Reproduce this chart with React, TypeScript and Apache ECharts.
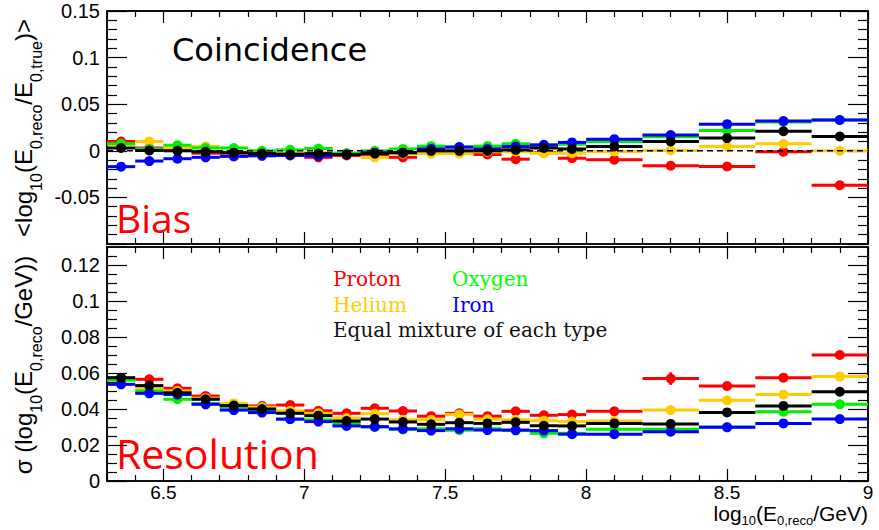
import React, { useEffect, useRef } from "react";
import * as echarts from "echarts";

// ---------------- data ----------------
const binCenters = [6.35, 6.45, 6.55, 6.65, 6.75, 6.85, 6.95, 7.05, 7.15, 7.25, 7.35, 7.45, 7.55, 7.65, 7.75, 7.85, 7.95, 8.1, 8.3, 8.5, 8.7, 8.9];
const binHalfWidths = [0.05, 0.05, 0.05, 0.05, 0.05, 0.05, 0.05, 0.05, 0.05, 0.05, 0.05, 0.05, 0.05, 0.05, 0.05, 0.05, 0.05, 0.1, 0.1, 0.1, 0.1, 0.1];

const biasProton = [0.010, 0.003, 0.002, -0.0025, -0.0025, -0.003, -0.004, -0.007, -0.005, -0.004, -0.007, -0.001, -0.002, -0.004, -0.009, -0.002, -0.008, -0.0096, -0.016, -0.0168, -0.001, -0.037];
const biasHelium = [0.007, 0.010, 0.003, 0.0046, -0.001, -0.002, -0.003, -0.002, -0.003, -0.007, -0.003, -0.003, -0.003, -0.001, -0.001, -0.0025, -0.0025, -0.0007, 0.0003, 0.0046, 0.0075, 0.0];
const biasOxygen = [0.0075, 0.002, 0.006, 0.003, 0.003, 0.0, 0.001, 0.0025, -0.0025, 0.0, 0.002, 0.005, 0.004, 0.005, 0.0075, 0.005, 0.007, 0.010, 0.015, 0.0218, 0.031, 0.033];
const biasIron = [-0.017, -0.011, -0.0085, -0.007, -0.006, -0.0054, -0.005, -0.0055, -0.004, -0.002, -0.002, 0.002, 0.004, 0.002, 0.0046, 0.0064, 0.009, 0.0125, 0.017, 0.0286, 0.032, 0.033];
const biasMixture = [0.003, 0.0003, 0.0, -0.001, -0.002, -0.003, -0.0036, -0.003, -0.004, -0.003, -0.002, 0.0, 0.0, 0.0, 0.001, 0.003, 0.002, 0.0046, 0.010, 0.0136, 0.021, 0.0153];

const resProton = [0.057, 0.0565, 0.0515, 0.0472, 0.0415, 0.0417, 0.0422, 0.039, 0.0376, 0.0404, 0.0389, 0.036, 0.0376, 0.036, 0.0387, 0.0365, 0.0369, 0.0387, 0.0569, 0.0528, 0.0574, 0.070];
const resProtonErr = [0.0004, 0.0004, 0.0004, 0.0004, 0.0004, 0.0004, 0.0004, 0.0004, 0.0004, 0.0004, 0.0004, 0.0004, 0.0004, 0.0005, 0.0005, 0.0005, 0.0005, 0.0006, 0.0035, 0.0012, 0.0010, 0.0020];
const resHelium = [0.0565, 0.0515, 0.050, 0.046, 0.0431, 0.041, 0.039, 0.0376, 0.035, 0.0374, 0.034, 0.034, 0.037, 0.0343, 0.034, 0.0335, 0.033, 0.0333, 0.0394, 0.0448, 0.0481, 0.058];
const resOxygen = [0.056, 0.050, 0.0454, 0.043, 0.041, 0.039, 0.0343, 0.034, 0.032, 0.030, 0.0286, 0.029, 0.0282, 0.029, 0.028, 0.0265, 0.0265, 0.0287, 0.0287, 0.030, 0.0385, 0.0426];
const resIron = [0.0537, 0.0487, 0.048, 0.0426, 0.0394, 0.038, 0.0344, 0.033, 0.0306, 0.0302, 0.029, 0.028, 0.029, 0.0283, 0.0283, 0.028, 0.026, 0.026, 0.0274, 0.0298, 0.032, 0.0344];
const resMixture = [0.0574, 0.053, 0.049, 0.0454, 0.0419, 0.040, 0.0376, 0.0363, 0.0333, 0.0344, 0.0328, 0.0315, 0.0324, 0.032, 0.0326, 0.0307, 0.0306, 0.032, 0.0317, 0.0381, 0.0417, 0.0496];

const xMajorTicks = [6.5, 7, 7.5, 8, 8.5, 9];
const xMinorTicks = [6.3, 6.4, 6.6, 6.7, 6.8, 6.9, 7.1, 7.2, 7.3, 7.4, 7.6, 7.7, 7.8, 7.9, 8.1, 8.2, 8.3, 8.4, 8.6, 8.7, 8.8, 8.9];
const biasMajorTicks = [-0.1, -0.05, 0, 0.05, 0.1, 0.15];
const biasLabels = [-0.05, 0, 0.05, 0.1, 0.15];
const biasMinorTicks = [-0.09, -0.08, -0.07, -0.06, -0.04, -0.03, -0.02, -0.01, 0.01, 0.02, 0.03, 0.04, 0.06, 0.07, 0.08, 0.09, 0.11, 0.12, 0.13, 0.14];
const resMajorTicks = [0, 0.02, 0.04, 0.06, 0.08, 0.1, 0.12];
const resMinorTicks = [0.005, 0.01, 0.015, 0.025, 0.03, 0.035, 0.045, 0.05, 0.055, 0.065, 0.07, 0.075, 0.085, 0.09, 0.095, 0.105, 0.11, 0.115, 0.125];

const speciesNames = ["Proton", "Helium", "Oxygen", "Iron", "Equal mixture of each type"];
const speciesColors = ["#ff0000", "#ffcc00", "#00ee00", "#0000ff", "#000000"];

const X_MIN = 6.3, X_MAX = 9;
const BIAS_MIN = -0.1, BIAS_MAX = 0.15;
const RES_MIN = 0, RES_MAX = 0.13;

const FONT = "Liberation Sans";

function makeRender(color: string) {
  return (params: any, api: any) => {
    const x = api.value(0);
    const y = api.value(1);
    const hw = api.value(2);
    const err = api.value(3);
    const pL = api.coord([x - hw, y]);
    const pR = api.coord([x + hw, y]);
    const pC = api.coord([x, y]);
    const children: any[] = [
      { type: "line", shape: { x1: pL[0], y1: pL[1], x2: pR[0], y2: pR[1] }, style: { stroke: color, lineWidth: 3 } },
    ];
    if (err > 0) {
      const pT = api.coord([x, y + err]);
      const pB = api.coord([x, y - err]);
      children.push({ type: "line", shape: { x1: pC[0], y1: pT[1], x2: pC[0], y2: pB[1] }, style: { stroke: color, lineWidth: 3 } });
    }
    children.push({ type: "circle", shape: { cx: pC[0], cy: pC[1], r: 5 }, style: { fill: color } });
    return { type: "group", children };
  };
}

function axis(gridIndex: number, position: string, min: number, max: number, ticks: number[], len: number, labels?: number[]) {
  const isBottom = position === "bottom";
  return {
    type: "value",
    gridIndex,
    position,
    min,
    max,
    axisLine: { show: true, onZero: false, lineStyle: { color: "#000", width: 1.5 } },
    axisTick: { show: true, inside: true, length: len, customValues: ticks, lineStyle: { color: "#000", width: 1.2 } },
    axisLabel: labels
      ? {
          show: true, customValues: labels, color: "#000",
          fontSize: isBottom ? 19 : 20, fontFamily: FONT,
          lineHeight: isBottom ? 18 : 22,
          margin: isBottom ? 2 : 7,
        }
      : { show: false },
    splitLine: { show: false },
    minorTick: { show: false },
  };
}

export default function App() {
  const ref = useRef<HTMLDivElement>(null);
  useEffect(() => {
    if (!ref.current) return;
    const chart = echarts.init(ref.current, undefined, { renderer: "svg" });

    const biasSets = [biasProton, biasHelium, biasOxygen, biasIron, biasMixture];
    const resSets = [resProton, resHelium, resOxygen, resIron, resMixture];
    const resErrs = [resProtonErr, null, null, null, null];

    const series: any[] = [];
    biasSets.forEach((vals, k) => {
      series.push({
        type: "custom",
        name: speciesNames[k],
        xAxisIndex: 0,
        yAxisIndex: 0,
        renderItem: makeRender(speciesColors[k]),
        encode: { x: 0, y: 1 },
        data: binCenters.map((c, i) => [c, vals[i], binHalfWidths[i], 0]),
        z: 2 + k,
      });
    });
    series.push({
      type: "line",
      xAxisIndex: 0,
      yAxisIndex: 0,
      data: [[X_MIN, 0], [X_MAX, 0]],
      symbol: "none",
      lineStyle: { color: "#000", width: 1.5, type: [6, 4] },
      z: 10,
    });
    resSets.forEach((vals, k) => {
      const errs = resErrs[k];
      series.push({
        type: "custom",
        name: speciesNames[k],
        xAxisIndex: 4,
        yAxisIndex: 4,
        renderItem: makeRender(speciesColors[k]),
        encode: { x: 0, y: 1 },
        data: binCenters.map((c, i) => [c, vals[i], binHalfWidths[i], errs ? errs[i] : 0]),
        z: 2 + k,
      });
    });

    const sub = (t: string) => `{s|${t}}`;
    const main = (t: string) => `{m|${t}}`;
    const richTitle = {
      m: { fontSize: 24, fontFamily: FONT, lineHeight: 26, verticalAlign: "top", fill: "#000" },
      s: { fontSize: 16, fontFamily: FONT, lineHeight: 33, verticalAlign: "bottom", fill: "#000" },
    };
    const richX = {
      m: { fontSize: 21, fontFamily: FONT, lineHeight: 22, verticalAlign: "top", fill: "#000" },
      s: { fontSize: 13, fontFamily: FONT, lineHeight: 24, verticalAlign: "bottom", fill: "#000" },
    };

    const option: any = {
      animation: false,
      backgroundColor: "#ffffff",
      grid: [
        { left: 107, top: 11, width: 761, height: 233 },
        { left: 107, top: 247, width: 761, height: 234 },
      ],
      xAxis: [
        axis(0, "bottom", X_MIN, X_MAX, xMajorTicks, 12),
        axis(0, "bottom", X_MIN, X_MAX, xMinorTicks, 6),
        axis(0, "top", X_MIN, X_MAX, xMajorTicks, 12),
        axis(0, "top", X_MIN, X_MAX, xMinorTicks, 6),
        axis(1, "bottom", X_MIN, X_MAX, xMajorTicks, 12, xMajorTicks),
        axis(1, "bottom", X_MIN, X_MAX, xMinorTicks, 6),
        axis(1, "top", X_MIN, X_MAX, xMajorTicks, 12),
        axis(1, "top", X_MIN, X_MAX, xMinorTicks, 6),
      ],
      yAxis: [
        axis(0, "left", BIAS_MIN, BIAS_MAX, biasMajorTicks, 20, biasLabels),
        axis(0, "left", BIAS_MIN, BIAS_MAX, biasMinorTicks, 10),
        axis(0, "right", BIAS_MIN, BIAS_MAX, biasMajorTicks, 20),
        axis(0, "right", BIAS_MIN, BIAS_MAX, biasMinorTicks, 10),
        axis(1, "left", RES_MIN, RES_MAX, resMajorTicks, 20, resMajorTicks),
        axis(1, "left", RES_MIN, RES_MAX, resMinorTicks, 10),
        axis(1, "right", RES_MIN, RES_MAX, resMajorTicks, 20),
        axis(1, "right", RES_MIN, RES_MAX, resMinorTicks, 10),
      ],
      series,
      graphic: [
        {
          type: "text", x: 172, y: 50,
          style: { text: "Coincidence", fill: "#000", fontSize: 32, fontFamily: "DejaVu Sans", verticalAlign: "middle", align: "left" },
        },
        {
          type: "text", x: 116, y: 217,
          style: { text: "Bias", fill: "#ff0000", fontSize: 39, fontFamily: "Open Sans", verticalAlign: "middle", align: "left" },
        },
        {
          type: "text", x: 116, y: 453,
          style: { text: "Resolution", fill: "#ff0000", fontSize: 41, fontFamily: "Open Sans", verticalAlign: "middle", align: "left" },
        },
        {
          type: "text", x: 333, y: 279,
          style: { text: speciesNames[0], fill: speciesColors[0], fontSize: 20, fontFamily: "DejaVu Serif", verticalAlign: "middle", align: "left" },
        },
        {
          type: "text", x: 452, y: 279,
          style: { text: speciesNames[2], fill: "#00ff00", fontSize: 20, fontFamily: "DejaVu Serif", verticalAlign: "middle", align: "left" },
        },
        {
          type: "text", x: 333, y: 305,
          style: { text: speciesNames[1], fill: speciesColors[1], fontSize: 20, fontFamily: "DejaVu Serif", verticalAlign: "middle", align: "left" },
        },
        {
          type: "text", x: 452, y: 305,
          style: { text: speciesNames[3], fill: speciesColors[3], fontSize: 20, fontFamily: "DejaVu Serif", verticalAlign: "middle", align: "left" },
        },
        {
          type: "text", x: 333, y: 330,
          style: { text: speciesNames[4], fill: "#111", fontSize: 20, fontFamily: "DejaVu Serif", verticalAlign: "middle", align: "left" },
        },
        {
          type: "text", x: 28, y: 128, rotation: Math.PI / 2,
          style: {
            text: main("<log") + sub("10") + main("(E") + sub("0,reco") + main("/E") + sub("0,true") + main(")>"),
            rich: richTitle, fill: "#000", align: "center", verticalAlign: "middle",
          },
        },
        {
          type: "text", x: 28, y: 365, rotation: Math.PI / 2,
          style: {
            text: main("σ (log") + sub("10") + main("(E") + sub("0,reco") + main("/GeV))"),
            rich: richTitle, fill: "#000", align: "center", verticalAlign: "middle",
          },
        },
        {
          type: "text", x: 868, y: 503,
          style: {
            text: main("log") + sub("10") + main("(E") + sub("0,reco") + main("/GeV)"),
            rich: richX, fill: "#000", align: "right", verticalAlign: "top",
          },
        },
      ],
    };
    chart.setOption(option);
    return () => chart.dispose();
  }, []);

  return <div ref={ref} style={{ position: "fixed", left: 0, top: 0, width: 879, height: 530, background: "#fff" }} />;
}
